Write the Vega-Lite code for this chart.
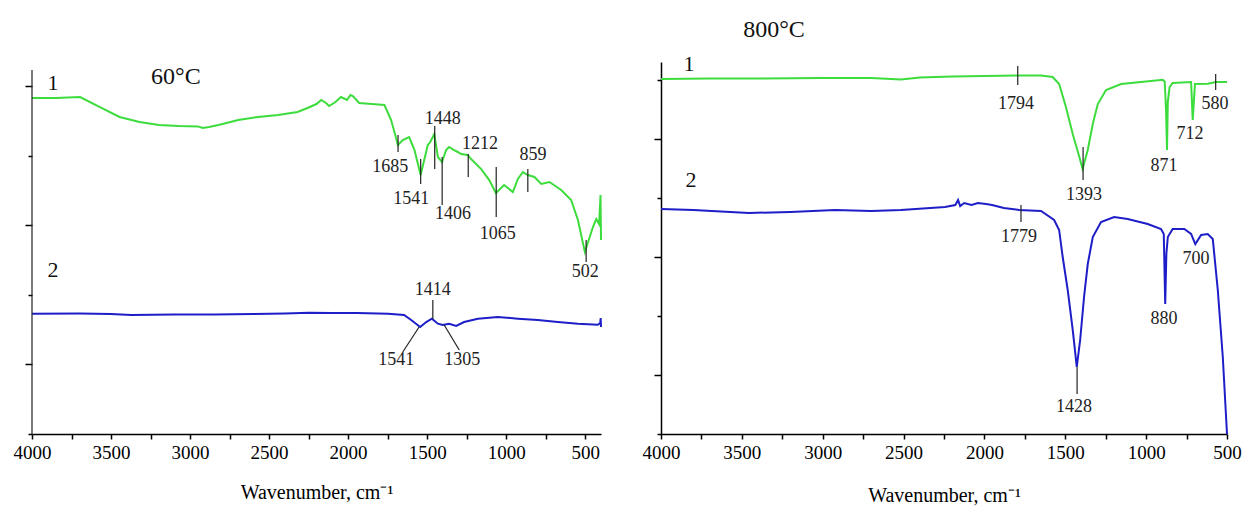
{
  "$schema": "https://vega.github.io/schema/vega-lite/v6.json",
  "background": "white",
  "padding": {"left": 13, "top": 18, "right": 5, "bottom": 5},
  "bounds": "flush",
  "spacing": 60,
  "config": {
    "view": {"stroke": null},
    "font": "Liberation Serif",
    "axis": {
      "domainColor": "#000000",
      "domainWidth": 1.5,
      "tickColor": "#000000",
      "tickWidth": 1.5,
      "labelColor": "#000000",
      "labelFont": "Liberation Serif",
      "labelFontSize": 19,
      "labelFlush": false,
      "titleFont": "Liberation Serif",
      "titleFontSize": 20,
      "titleFontWeight": "normal",
      "titleColor": "#000000",
      "grid": false
    }
  },
  "datasets": {
    "left": [
      {"curve": "1", "wn": 4000, "T": 48.28}, {"curve": "1", "wn": 3850, "T": 48.28}, {"curve": "1", "wn": 3696, "T": 48.42},
      {"curve": "1", "wn": 3570, "T": 46.98}, {"curve": "1", "wn": 3446, "T": 45.55}, {"curve": "1", "wn": 3320, "T": 44.83},
      {"curve": "1", "wn": 3196, "T": 44.40}, {"curve": "1", "wn": 3070, "T": 44.25}, {"curve": "1", "wn": 2950, "T": 44.2},
      {"curve": "1", "wn": 2920, "T": 43.97}, {"curve": "1", "wn": 2880, "T": 44.1},
      {"curve": "1", "wn": 2820, "T": 44.40}, {"curve": "1", "wn": 2695, "T": 45.11}, {"curve": "1", "wn": 2570, "T": 45.55},
      {"curve": "1", "wn": 2443, "T": 45.83}, {"curve": "1", "wn": 2320, "T": 46.26}, {"curve": "1", "wn": 2257, "T": 46.84},
      {"curve": "1", "wn": 2200, "T": 47.41}, {"curve": "1", "wn": 2170, "T": 47.99}, {"curve": "1", "wn": 2140, "T": 47.56},
      {"curve": "1", "wn": 2120, "T": 47.13}, {"curve": "1", "wn": 2080, "T": 47.70}, {"curve": "1", "wn": 2045, "T": 48.42},
      {"curve": "1", "wn": 2007, "T": 47.99}, {"curve": "1", "wn": 1985, "T": 48.71}, {"curve": "1", "wn": 1970, "T": 48.56},
      {"curve": "1", "wn": 1930, "T": 47.56}, {"curve": "1", "wn": 1850, "T": 47.41}, {"curve": "1", "wn": 1770, "T": 47.27},
      {"curve": "1", "wn": 1728, "T": 45.11}, {"curve": "1", "wn": 1700, "T": 42.82}, {"curve": "1", "wn": 1685, "T": 41.52},
      {"curve": "1", "wn": 1654, "T": 42.24}, {"curve": "1", "wn": 1614, "T": 42.67}, {"curve": "1", "wn": 1580, "T": 40.80},
      {"curve": "1", "wn": 1541, "T": 37.21}, {"curve": "1", "wn": 1496, "T": 41.52}, {"curve": "1", "wn": 1480, "T": 41.95},
      {"curve": "1", "wn": 1455, "T": 43.10}, {"curve": "1", "wn": 1432, "T": 39.80}, {"curve": "1", "wn": 1406, "T": 39.08},
      {"curve": "1", "wn": 1380, "T": 40.80}, {"curve": "1", "wn": 1361, "T": 41.24}, {"curve": "1", "wn": 1330, "T": 40.80},
      {"curve": "1", "wn": 1306, "T": 40.52}, {"curve": "1", "wn": 1285, "T": 40.23}, {"curve": "1", "wn": 1243, "T": 40.09},
      {"curve": "1", "wn": 1222, "T": 39.51}, {"curve": "1", "wn": 1158, "T": 38.07}, {"curve": "1", "wn": 1107, "T": 36.49},
      {"curve": "1", "wn": 1065, "T": 34.63}, {"curve": "1", "wn": 1013, "T": 35.78}, {"curve": "1", "wn": 958, "T": 34.77},
      {"curve": "1", "wn": 926, "T": 36.64}, {"curve": "1", "wn": 894, "T": 37.64}, {"curve": "1", "wn": 863, "T": 37.21},
      {"curve": "1", "wn": 821, "T": 36.93}, {"curve": "1", "wn": 778, "T": 35.92}, {"curve": "1", "wn": 726, "T": 36.21},
      {"curve": "1", "wn": 652, "T": 35.06}, {"curve": "1", "wn": 589, "T": 33.62}, {"curve": "1", "wn": 546, "T": 30.75},
      {"curve": "1", "wn": 502, "T": 26.15}, {"curve": "1", "wn": 451, "T": 29.74}, {"curve": "1", "wn": 430, "T": 30.89},
      {"curve": "1", "wn": 412, "T": 30.17}, {"curve": "1", "wn": 403, "T": 34.34}, {"curve": "1", "wn": 400, "T": 27.87},
      {"curve": "2", "wn": 4000, "T": 17.28}, {"curve": "2", "wn": 3700, "T": 17.31}, {"curve": "2", "wn": 3500, "T": 17.24},
      {"curve": "2", "wn": 3373, "T": 17.10}, {"curve": "2", "wn": 3100, "T": 17.17}, {"curve": "2", "wn": 2848, "T": 17.17},
      {"curve": "2", "wn": 2600, "T": 17.24}, {"curve": "2", "wn": 2400, "T": 17.31}, {"curve": "2", "wn": 2247, "T": 17.43},
      {"curve": "2", "wn": 2100, "T": 17.39}, {"curve": "2", "wn": 1943, "T": 17.39}, {"curve": "2", "wn": 1747, "T": 17.28},
      {"curve": "2", "wn": 1646, "T": 17.10}, {"curve": "2", "wn": 1601, "T": 16.38}, {"curve": "2", "wn": 1544, "T": 15.37},
      {"curve": "2", "wn": 1506, "T": 16.09}, {"curve": "2", "wn": 1470, "T": 16.57}, {"curve": "2", "wn": 1432, "T": 15.85},
      {"curve": "2", "wn": 1401, "T": 15.66}, {"curve": "2", "wn": 1361, "T": 15.85}, {"curve": "2", "wn": 1316, "T": 15.52},
      {"curve": "2", "wn": 1266, "T": 16.09}, {"curve": "2", "wn": 1179, "T": 16.57}, {"curve": "2", "wn": 1053, "T": 16.81},
      {"curve": "2", "wn": 926, "T": 16.57}, {"curve": "2", "wn": 800, "T": 16.38}, {"curve": "2", "wn": 673, "T": 16.09},
      {"curve": "2", "wn": 546, "T": 15.85}, {"curve": "2", "wn": 420, "T": 15.70}, {"curve": "2", "wn": 405, "T": 15.95},
      {"curve": "2", "wn": 402, "T": 16.67}, {"curve": "2", "wn": 400, "T": 15.37}
    ],
    "right": [
      {"curve": "1", "wn": 4000, "T": 60.17}, {"curve": "1", "wn": 3700, "T": 60.25}, {"curve": "1", "wn": 3400, "T": 60.25},
      {"curve": "1", "wn": 3000, "T": 60.34}, {"curve": "1", "wn": 2700, "T": 60.34}, {"curve": "1", "wn": 2516, "T": 60.08},
      {"curve": "1", "wn": 2400, "T": 60.42}, {"curve": "1", "wn": 2200, "T": 60.59}, {"curve": "1", "wn": 2000, "T": 60.68},
      {"curve": "1", "wn": 1794, "T": 60.76}, {"curve": "1", "wn": 1650, "T": 60.76}, {"curve": "1", "wn": 1578, "T": 60.51},
      {"curve": "1", "wn": 1538, "T": 59.32}, {"curve": "1", "wn": 1496, "T": 55.42}, {"curve": "1", "wn": 1454, "T": 50.85},
      {"curve": "1", "wn": 1413, "T": 46.95}, {"curve": "1", "wn": 1393, "T": 44.92}, {"curve": "1", "wn": 1361, "T": 48.14},
      {"curve": "1", "wn": 1330, "T": 52.54}, {"curve": "1", "wn": 1299, "T": 55.93}, {"curve": "1", "wn": 1248, "T": 58.31},
      {"curve": "1", "wn": 1155, "T": 59.32}, {"curve": "1", "wn": 1032, "T": 59.66}, {"curve": "1", "wn": 897, "T": 60.05},
      {"curve": "1", "wn": 885, "T": 59.7}, {"curve": "1", "wn": 877, "T": 54.9}, {"curve": "1", "wn": 871, "T": 48.14},
      {"curve": "1", "wn": 866, "T": 56.3}, {"curve": "1", "wn": 855, "T": 58.8}, {"curve": "1", "wn": 836, "T": 59.49},
      {"curve": "1", "wn": 722, "T": 59.66}, {"curve": "1", "wn": 712, "T": 53.22}, {"curve": "1", "wn": 698, "T": 59.32},
      {"curve": "1", "wn": 619, "T": 59.37}, {"curve": "1", "wn": 568, "T": 59.66}, {"curve": "1", "wn": 500, "T": 59.66},
      {"curve": "2", "wn": 4000, "T": 38.14}, {"curve": "2", "wn": 3800, "T": 37.97}, {"curve": "2", "wn": 3456, "T": 37.46},
      {"curve": "2", "wn": 3200, "T": 37.63}, {"curve": "2", "wn": 2924, "T": 37.97}, {"curve": "2", "wn": 2700, "T": 37.80},
      {"curve": "2", "wn": 2516, "T": 37.97}, {"curve": "2", "wn": 2244, "T": 38.47}, {"curve": "2", "wn": 2180, "T": 38.81},
      {"curve": "2", "wn": 2163, "T": 39.66}, {"curve": "2", "wn": 2150, "T": 38.64}, {"curve": "2", "wn": 2125, "T": 39.15},
      {"curve": "2", "wn": 2080, "T": 38.81}, {"curve": "2", "wn": 2040, "T": 39.15}, {"curve": "2", "wn": 1990, "T": 38.98},
      {"curve": "2", "wn": 1953, "T": 38.81}, {"curve": "2", "wn": 1880, "T": 38.31}, {"curve": "2", "wn": 1786, "T": 37.97},
      {"curve": "2", "wn": 1650, "T": 37.80}, {"curve": "2", "wn": 1569, "T": 36.27}, {"curve": "2", "wn": 1538, "T": 34.58},
      {"curve": "2", "wn": 1516, "T": 30.0}, {"curve": "2", "wn": 1485, "T": 24.41}, {"curve": "2", "wn": 1454, "T": 17.63},
      {"curve": "2", "wn": 1429, "T": 11.36}, {"curve": "2", "wn": 1408, "T": 15.93}, {"curve": "2", "wn": 1384, "T": 23.22},
      {"curve": "2", "wn": 1361, "T": 28.81}, {"curve": "2", "wn": 1330, "T": 33.39}, {"curve": "2", "wn": 1279, "T": 35.93},
      {"curve": "2", "wn": 1198, "T": 36.78}, {"curve": "2", "wn": 1114, "T": 36.44}, {"curve": "2", "wn": 990, "T": 35.59},
      {"curve": "2", "wn": 908, "T": 34.75}, {"curve": "2", "wn": 891, "T": 33.90}, {"curve": "2", "wn": 882, "T": 22.03},
      {"curve": "2", "wn": 875, "T": 30.51}, {"curve": "2", "wn": 866, "T": 33.39}, {"curve": "2", "wn": 836, "T": 34.75},
      {"curve": "2", "wn": 764, "T": 34.75}, {"curve": "2", "wn": 722, "T": 33.90}, {"curve": "2", "wn": 696, "T": 32.20},
      {"curve": "2", "wn": 660, "T": 33.73}, {"curve": "2", "wn": 619, "T": 33.90}, {"curve": "2", "wn": 588, "T": 33.05},
      {"curve": "2", "wn": 557, "T": 24.41}, {"curve": "2", "wn": 526, "T": 13.05}, {"curve": "2", "wn": 500, "T": 0}
    ],
    "leftMarkers": [
      {"wn": 1684, "wn2": 1684, "T": 42.96, "T2": 40.52},
      {"wn": 1541, "wn2": 1541, "T": 39.51, "T2": 35.92},
      {"wn": 1452, "wn2": 1452, "T": 44.25, "T2": 38.07},
      {"wn": 1405, "wn2": 1405, "T": 39.80, "T2": 32.90},
      {"wn": 1240, "wn2": 1240, "T": 40.23, "T2": 36.93},
      {"wn": 1063, "wn2": 1063, "T": 38.36, "T2": 31.18},
      {"wn": 863, "wn2": 863, "T": 38.07, "T2": 34.77},
      {"wn": 494, "wn2": 494, "T": 27.87, "T2": 24.71},
      {"wn": 1464, "wn2": 1464, "T": 19.25, "T2": 16.52},
      {"wn": 1551, "wn2": 1654, "T": 15.37, "T2": 11.78},
      {"wn": 1392, "wn2": 1297, "T": 15.66, "T2": 12.07},
      {"wn": 4000, "wn2": 4000, "T": 0, "T2": 52.3}
    ],
    "leftPeaks": [
      {"wn": 1734, "T": 38.36, "label": "1685"},
      {"wn": 1601, "T": 33.76, "label": "1541"},
      {"wn": 1401, "T": 45.26, "label": "1448"},
      {"wn": 1337, "T": 31.61, "label": "1406"},
      {"wn": 1165, "T": 41.67, "label": "1212"},
      {"wn": 1053, "T": 28.74, "label": "1065"},
      {"wn": 831, "T": 40.09, "label": "859"},
      {"wn": 500, "T": 23.28, "label": "502"},
      {"wn": 1464, "T": 20.69, "label": "1414"},
      {"wn": 1696, "T": 10.63, "label": "1541"},
      {"wn": 1278, "T": 10.63, "label": "1305"}
    ],
    "leftCurves": [
      {"wn": 3867, "T": 50.43, "label": "1"},
      {"wn": 3867, "T": 23.56, "label": "2"}
    ],
    "leftTemp": [{"wn": 3090, "T": 51.29, "label": "60°C"}],
    "rightMarkers": [
      {"wn": 1794, "wn2": 1794, "T": 62.37, "T2": 59.15},
      {"wn": 1390, "wn2": 1390, "T": 48.64, "T2": 43.05},
      {"wn": 570, "wn2": 570, "T": 61.02, "T2": 58.31},
      {"wn": 1774, "wn2": 1774, "T": 38.81, "T2": 35.93},
      {"wn": 1427, "wn2": 1427, "T": 11.36, "T2": 6.78}
    ],
    "rightPeaks": [
      {"wn": 1805, "T": 55.98, "label": "1794"},
      {"wn": 1384, "T": 40.51, "label": "1393"},
      {"wn": 889, "T": 45.42, "label": "871"},
      {"wn": 729, "T": 50.85, "label": "712"},
      {"wn": 574, "T": 55.93, "label": "580"},
      {"wn": 1786, "T": 33.39, "label": "1779"},
      {"wn": 1446, "T": 4.58, "label": "1428"},
      {"wn": 889, "T": 19.49, "label": "880"},
      {"wn": 691, "T": 29.66, "label": "700"}
    ],
    "rightCurves": [
      {"wn": 3827, "T": 62.71, "label": "1"},
      {"wn": 3814, "T": 43.0, "label": "2"}
    ],
    "rightTemp": [{"wn": 3301, "T": 68.47, "label": "800°C"}]
  },
  "hconcat": [
    {
      "width": 569,
      "height": 372,
      "encoding": {
        "x": {
          "field": "wn", "type": "quantitative",
          "scale": {"domain": [400, 4000], "reverse": true, "nice": false, "zero": false},
          "axis": {
            "values": [4000, 3750, 3500, 3250, 3000, 2750, 2500, 2250, 2000, 1750, 1500, 1250, 1000, 750, 500],
            "labelExpr": "datum.value % 500 === 0 ? datum.label : ''",
            "format": "d",
            "tickSize": 5,
            "labelPadding": 4,
            "title": "Wavenumber, cm⁻¹",
            "titlePadding": 20
          }
        },
        "y": {
          "field": "T", "type": "quantitative",
          "scale": {"domain": [0, 53.45], "nice": false, "zero": false},
          "axis": {
            "values": [0, 10, 20, 30, 40, 50],
            "labels": false,
            "title": null,
            "domain": false,
            "tickSize": {"condition": {"test": "datum.value % 20 === 10", "value": 7}, "value": 4}
          }
        }
      },
      "layer": [
        {
          "data": {"name": "left"},
          "mark": {"type": "line", "strokeWidth": 2},
          "encoding": {
            "color": {"field": "curve", "type": "nominal", "scale": {"domain": ["1", "2"], "range": ["#3ddc3d", "#1e1ec8"]}, "legend": null}
          }
        },
        {
          "data": {"name": "leftMarkers"},
          "mark": {"type": "rule", "color": "#222222", "strokeWidth": 1.2},
          "encoding": {"x2": {"field": "wn2"}, "y2": {"field": "T2"}}
        },
        {
          "data": {"name": "leftPeaks"},
          "mark": {"type": "text", "fontSize": 18, "font": "Liberation Serif", "color": "#222222", "align": "center", "baseline": "middle"},
          "encoding": {"text": {"field": "label"}}
        },
        {
          "data": {"name": "leftCurves"},
          "mark": {"type": "text", "fontSize": 22, "font": "Liberation Serif", "color": "#111111", "align": "center", "baseline": "middle"},
          "encoding": {"text": {"field": "label"}}
        },
        {
          "data": {"name": "leftTemp"},
          "mark": {"type": "text", "fontSize": 24, "font": "Liberation Serif", "color": "#111111", "align": "center", "baseline": "middle"},
          "encoding": {"text": {"field": "label"}}
        }
      ]
    },
    {
      "width": 566,
      "height": 372,
      "encoding": {
        "x": {
          "field": "wn", "type": "quantitative",
          "scale": {"domain": [500, 4000], "reverse": true, "nice": false, "zero": false},
          "axis": {
            "values": [4000, 3750, 3500, 3250, 3000, 2750, 2500, 2250, 2000, 1750, 1500, 1250, 1000, 750, 500],
            "labelExpr": "datum.value % 500 === 0 ? datum.label : ''",
            "format": "d",
            "tickSize": 5,
            "labelPadding": 4,
            "title": "Wavenumber, cm⁻¹",
            "titlePadding": 23
          }
        },
        "y": {
          "field": "T", "type": "quantitative",
          "scale": {"domain": [0, 63.05], "nice": false, "zero": false},
          "axis": {
            "values": [0, 10, 20, 30, 40, 50, 60],
            "labels": false,
            "title": null,
            "tickSize": {"condition": {"test": "datum.value % 20 === 10", "value": 7}, "value": 4}
          }
        }
      },
      "layer": [
        {
          "data": {"name": "right"},
          "mark": {"type": "line", "strokeWidth": 2},
          "encoding": {
            "color": {"field": "curve", "type": "nominal", "scale": {"domain": ["1", "2"], "range": ["#3ddc3d", "#1e1ec8"]}, "legend": null}
          }
        },
        {
          "data": {"name": "rightMarkers"},
          "mark": {"type": "rule", "color": "#222222", "strokeWidth": 1.2},
          "encoding": {"x2": {"field": "wn2"}, "y2": {"field": "T2"}}
        },
        {
          "data": {"name": "rightPeaks"},
          "mark": {"type": "text", "fontSize": 18, "font": "Liberation Serif", "color": "#222222", "align": "center", "baseline": "middle"},
          "encoding": {"text": {"field": "label"}}
        },
        {
          "data": {"name": "rightCurves"},
          "mark": {"type": "text", "fontSize": 22, "font": "Liberation Serif", "color": "#111111", "align": "center", "baseline": "middle"},
          "encoding": {"text": {"field": "label"}}
        },
        {
          "data": {"name": "rightTemp"},
          "mark": {"type": "text", "fontSize": 24, "font": "Liberation Serif", "color": "#111111", "align": "center", "baseline": "middle"},
          "encoding": {"text": {"field": "label"}}
        }
      ]
    }
  ]
}
